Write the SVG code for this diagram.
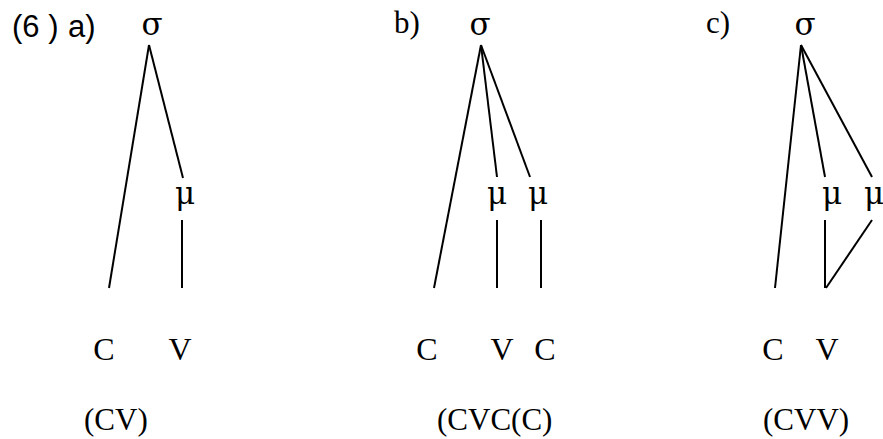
<svg xmlns="http://www.w3.org/2000/svg" width="883" height="439" viewBox="0 0 883 439">
<style>
.s{font-family:"Liberation Serif","Times New Roman",serif;font-size:32px;fill:#000;text-anchor:middle}
.g{font-family:"DejaVu Serif",serif;font-size:31px;fill:#000;text-anchor:middle}
.l{font-family:"Liberation Serif","Times New Roman",serif;font-size:31px;fill:#000}
.h{font-family:"Liberation Sans",Arial,sans-serif;font-size:31px;fill:#000}
.c line{stroke:#000;stroke-width:2;fill:none}
</style>
<rect width="883" height="439" fill="#fff"/>
<g id="labels">
<text class="h" x="12" y="37">(6 )</text>
<text class="h" x="68" y="37">a)</text>
<text class="l" x="394" y="33">b)</text>
<text class="l" x="706" y="33">c)</text>
</g>
<g id="a-sigma"><text class="g" x="152" y="35">σ</text></g>
<g id="a-mu"><text class="g" x="185" y="204">μ</text></g>
<g id="a-C"><text class="s" x="104" y="360">C</text></g>
<g id="a-V"><text class="s" x="180" y="360">V</text></g>
<g id="a-form"><text class="l" x="84" y="430">(CV)</text></g>
<g id="b-sigma"><text class="g" x="480" y="35">σ</text></g>
<g id="b-mu1"><text class="g" x="497" y="204">μ</text></g>
<g id="b-mu2"><text class="g" x="538" y="204">μ</text></g>
<g id="b-C1"><text class="s" x="427" y="360">C</text></g>
<g id="b-V"><text class="s" x="502" y="360">V</text></g>
<g id="b-C2"><text class="s" x="545" y="360">C</text></g>
<g id="b-form"><text class="l" x="437" y="430">(CVC(C)</text></g>
<g id="c-sigma"><text class="g" x="805" y="35">σ</text></g>
<g id="c-mu1"><text class="g" x="832" y="204">μ</text></g>
<g id="c-mu2"><text class="g" x="874" y="204">μ</text></g>
<g id="c-C"><text class="s" x="773" y="360">C</text></g>
<g id="c-V"><text class="s" x="827" y="360">V</text></g>
<g id="c-form"><text class="l" x="763" y="430">(CVV)</text></g>
<g id="connectors" class="c">
<line x1="149" y1="45" x2="109" y2="288"/>
<line x1="149" y1="45" x2="183" y2="178"/>
<line x1="182" y1="220" x2="182" y2="288"/>
<line x1="481" y1="45" x2="434" y2="288"/>
<line x1="481" y1="45" x2="497" y2="177"/>
<line x1="481" y1="45" x2="530" y2="177"/>
<line x1="497" y1="220" x2="497" y2="288"/>
<line x1="541" y1="220" x2="541" y2="288"/>
<line x1="801" y1="45" x2="775" y2="288"/>
<line x1="801" y1="45" x2="825" y2="177"/>
<line x1="801" y1="45" x2="872" y2="177"/>
<line x1="825" y1="220" x2="825" y2="288"/>
<line x1="872" y1="220" x2="826" y2="288"/>
</g>
</svg>
